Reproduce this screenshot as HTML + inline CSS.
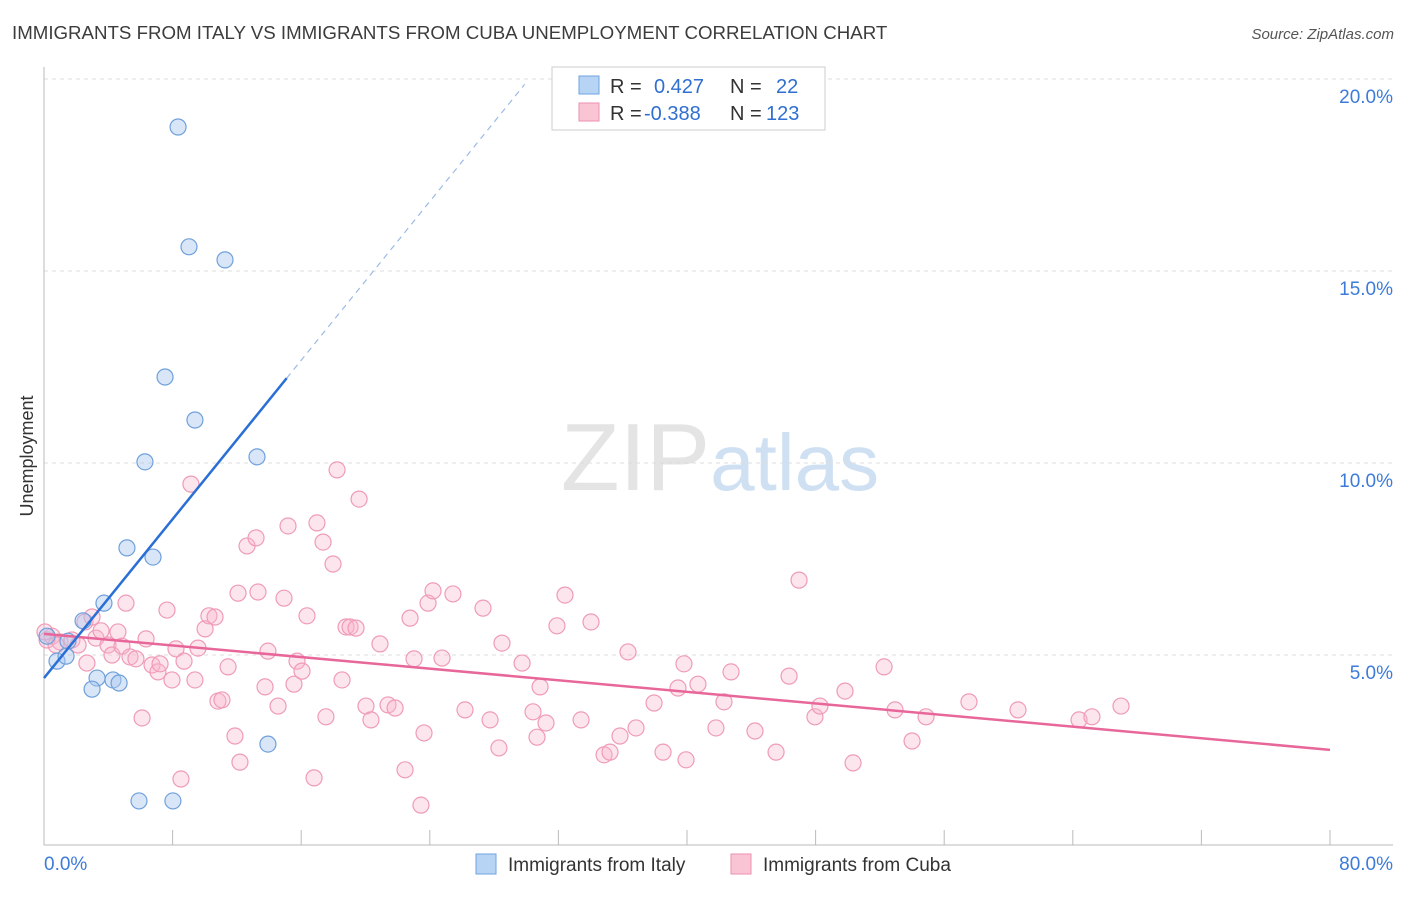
<!DOCTYPE html>
<html><head><meta charset="utf-8"><style>
body{margin:0;background:#fff;font-family:"Liberation Sans",sans-serif}
svg text{font-family:"Liberation Sans",sans-serif}
</style></head><body>
<svg id="chart" width="1406" height="892" xmlns="http://www.w3.org/2000/svg">
<text x="12" y="39" font-size="18.7" fill="#3c3c3c">IMMIGRANTS FROM ITALY VS IMMIGRANTS FROM CUBA UNEMPLOYMENT CORRELATION CHART</text>
<text x="1394" y="39" font-size="15" fill="#555" text-anchor="end" font-style="italic">Source: ZipAtlas.com</text>
<text x="720" y="490" font-size="96" text-anchor="middle" fill="#e4e4e4" font-family="Liberation Serif"><tspan>ZIP</tspan><tspan fill="#cfe0f3" font-family="Liberation Sans" font-size="80">atlas</tspan></text>
<text transform="translate(33,456) rotate(-90)" font-size="18" fill="#333" text-anchor="middle">Unemployment</text>
<g id="grid"></g><g id="axes"></g><g id="marks"></g>
<g>
<rect x="552" y="67" width="273" height="63" fill="#fff" stroke="#ccc"/>
<rect x="579" y="76" width="20" height="18" fill="#b8d4f5" stroke="#6fa3e0"/>
<rect x="579" y="103" width="20" height="18" fill="#f9c5d5" stroke="#ee8fae"/>
<text x="610" y="93" font-size="20" fill="#333">R = </text><text x="654" y="93" font-size="20" fill="#2f6fd0">0.427</text>
<text x="730" y="93" font-size="20" fill="#333">N = </text><text x="776" y="93" font-size="20" fill="#2f6fd0">22</text>
<text x="610" y="120" font-size="20" fill="#333">R = </text><text x="644" y="120" font-size="20" fill="#2f6fd0">-0.388</text>
<text x="730" y="120" font-size="20" fill="#333">N = </text><text x="766" y="120" font-size="20" fill="#2f6fd0">123</text>
</g>
<g>
<rect x="476" y="854" width="20" height="20" fill="#b8d4f5" stroke="#6fa3e0"/>
<text x="508" y="871" font-size="19" fill="#333">Immigrants from Italy</text>
<rect x="731" y="854" width="20" height="20" fill="#f9c5d5" stroke="#ee8fae"/>
<text x="763" y="871" font-size="19" fill="#333">Immigrants from Cuba</text>
</g>
</svg>
<script>
const italyX=[8.34,9.02,11.26,7.53,9.39,6.28,13.25,5.16,6.78,3.73,2.43,1.49,0.81,1.37,3.30,4.29,4.67,2.99,13.93,5.91,8.02,0.19];
const italyY=[18.75,15.63,15.29,12.24,11.12,10.03,10.16,7.79,7.55,6.35,5.89,5.36,4.84,4.97,4.40,4.35,4.27,4.11,2.68,1.20,1.20,5.49];
const cubaX=[0.19,0.50,1.00,1.74,2.12,2.55,2.99,3.23,3.55,2.67,3.98,4.23,4.60,5.10,4.85,5.35,5.72,6.10,6.35,6.72,7.09,7.22,7.65,7.96,8.21,8.52,8.71,9.14,9.39,9.58,10.02,10.26,10.64,10.82,11.07,11.45,11.88,12.19,12.07,12.63,13.19,13.31,13.75,13.93,14.56,14.93,15.18,15.55,15.74,16.05,16.36,16.80,16.98,17.36,17.54,17.98,18.23,18.54,18.79,19.04,19.41,19.60,20.03,20.34,20.90,21.40,21.84,22.46,22.77,23.02,23.45,23.64,23.89,24.20,24.76,25.44,26.19,27.31,27.75,28.30,28.49,29.74,30.42,30.67,30.86,31.23,31.91,32.41,33.41,34.03,34.84,35.21,35.83,36.33,36.83,37.95,38.51,39.44,39.81,39.94,40.68,41.80,42.30,42.74,44.23,45.54,46.35,46.97,47.96,48.27,49.83,50.33,52.26,52.94,54.00,54.87,57.54,60.59,64.39,65.19,67.00,0.06,0.75];
const cubaY=[5.39,5.49,5.34,5.39,5.26,5.86,5.99,5.44,5.63,4.79,5.26,5.00,5.60,6.35,5.23,4.95,4.90,3.36,5.42,4.74,4.56,4.77,6.17,4.35,5.16,1.77,4.84,9.45,4.35,5.18,5.68,6.02,5.99,3.80,3.83,4.69,2.89,2.21,6.61,7.84,8.05,6.64,4.17,5.10,3.67,6.48,8.36,4.24,4.84,4.58,6.02,1.80,8.44,7.94,3.39,7.37,9.82,4.35,5.73,5.73,5.70,9.06,3.67,3.31,5.29,3.70,3.62,2.01,5.96,4.90,1.09,2.97,6.35,6.67,4.92,6.59,3.57,6.22,3.31,2.58,5.31,4.79,3.52,2.86,4.17,3.23,5.76,6.56,3.31,5.86,2.40,2.47,2.89,5.08,3.10,3.75,2.47,4.14,4.77,2.27,4.24,3.10,3.78,4.56,3.02,2.47,4.45,6.95,3.39,3.67,4.06,2.19,4.69,3.57,2.76,3.39,3.78,3.57,3.31,3.39,3.67,5.60,5.26];
const yTicks=[5,10,15,20];
const yTickLabels=["5.0%","10.0%","15.0%","20.0%"];
const xTicks=[0,8,16,24,32,40,48,56,64,72,80];
const italyTrend=[0,4.40,15.1,12.21,29.9,19.86];
const cubaTrend=[0,5.55,80,2.53];

const NS="http://www.w3.org/2000/svg";
const sx=v=>44+v*16.075, sy=v=>847-v*38.4;
function mk(tag,attrs,parent){const e=document.createElementNS(NS,tag);for(const k in attrs)e.setAttribute(k,attrs[k]);parent.appendChild(e);return e;}
const grid=document.getElementById('grid'),axes=document.getElementById('axes'),marks=document.getElementById('marks');
yTicks.forEach((t,i)=>{
 const l=mk('line',{x1:44,x2:1393,y1:sy(t),y2:sy(t),stroke:'#ddd','stroke-dasharray':'4,4'},grid);
 
 
 const tx=mk('text',{x:1393,y:sy(t)+24,'font-size':19,fill:'#3d7bd8','text-anchor':'end'},axes);
 tx.textContent=yTickLabels[i];
 
 
});
mk('line',{x1:44,x2:44,y1:67,y2:845,stroke:'#bbb'},axes);
mk('line',{x1:44,x2:1393,y1:845,y2:845,stroke:'#bbb'},axes);
xTicks.forEach(t=>{const l=mk('line',{x1:sx(t),x2:sx(t),y1:830,y2:845,stroke:'#bbb'},axes);
 
 });
let a=mk('text',{x:44,y:870,'font-size':19,fill:'#3d7bd8'},axes);a.textContent='0.0%';


a=mk('text',{x:1393,y:870,'font-size':19,fill:'#3d7bd8','text-anchor':'end'},axes);a.textContent='80.0%';


cubaX.forEach((x,i)=>{const c=mk('circle',{cx:sx(x),cy:sy(cubaY[i]),r:8,fill:'rgba(248,180,202,0.35)',stroke:'#ef9bb7','stroke-width':1.2},marks);
 
 });
italyX.forEach((x,i)=>{const c=mk('circle',{cx:sx(x),cy:sy(italyY[i]),r:8,fill:'rgba(170,200,240,0.45)',stroke:'#6fa0dc','stroke-width':1.2},marks);
 
 });
let t=mk('line',{x1:sx(cubaTrend[0]),y1:sy(cubaTrend[1]),x2:sx(cubaTrend[2]),y2:sy(cubaTrend[3]),stroke:'#e8679a','stroke-width':2.5},marks);


t=mk('line',{x1:sx(italyTrend[0]),y1:sy(italyTrend[1]),x2:sx(italyTrend[2]),y2:sy(italyTrend[3]),stroke:'#2a6fd6','stroke-width':2.5},marks);


t=mk('line',{x1:sx(italyTrend[2]),y1:sy(italyTrend[3]),x2:sx(italyTrend[4]),y2:sy(italyTrend[5]),stroke:'#9bbbe6','stroke-width':1.2,'stroke-dasharray':'6,5'},marks);


</script>
</body></html>
